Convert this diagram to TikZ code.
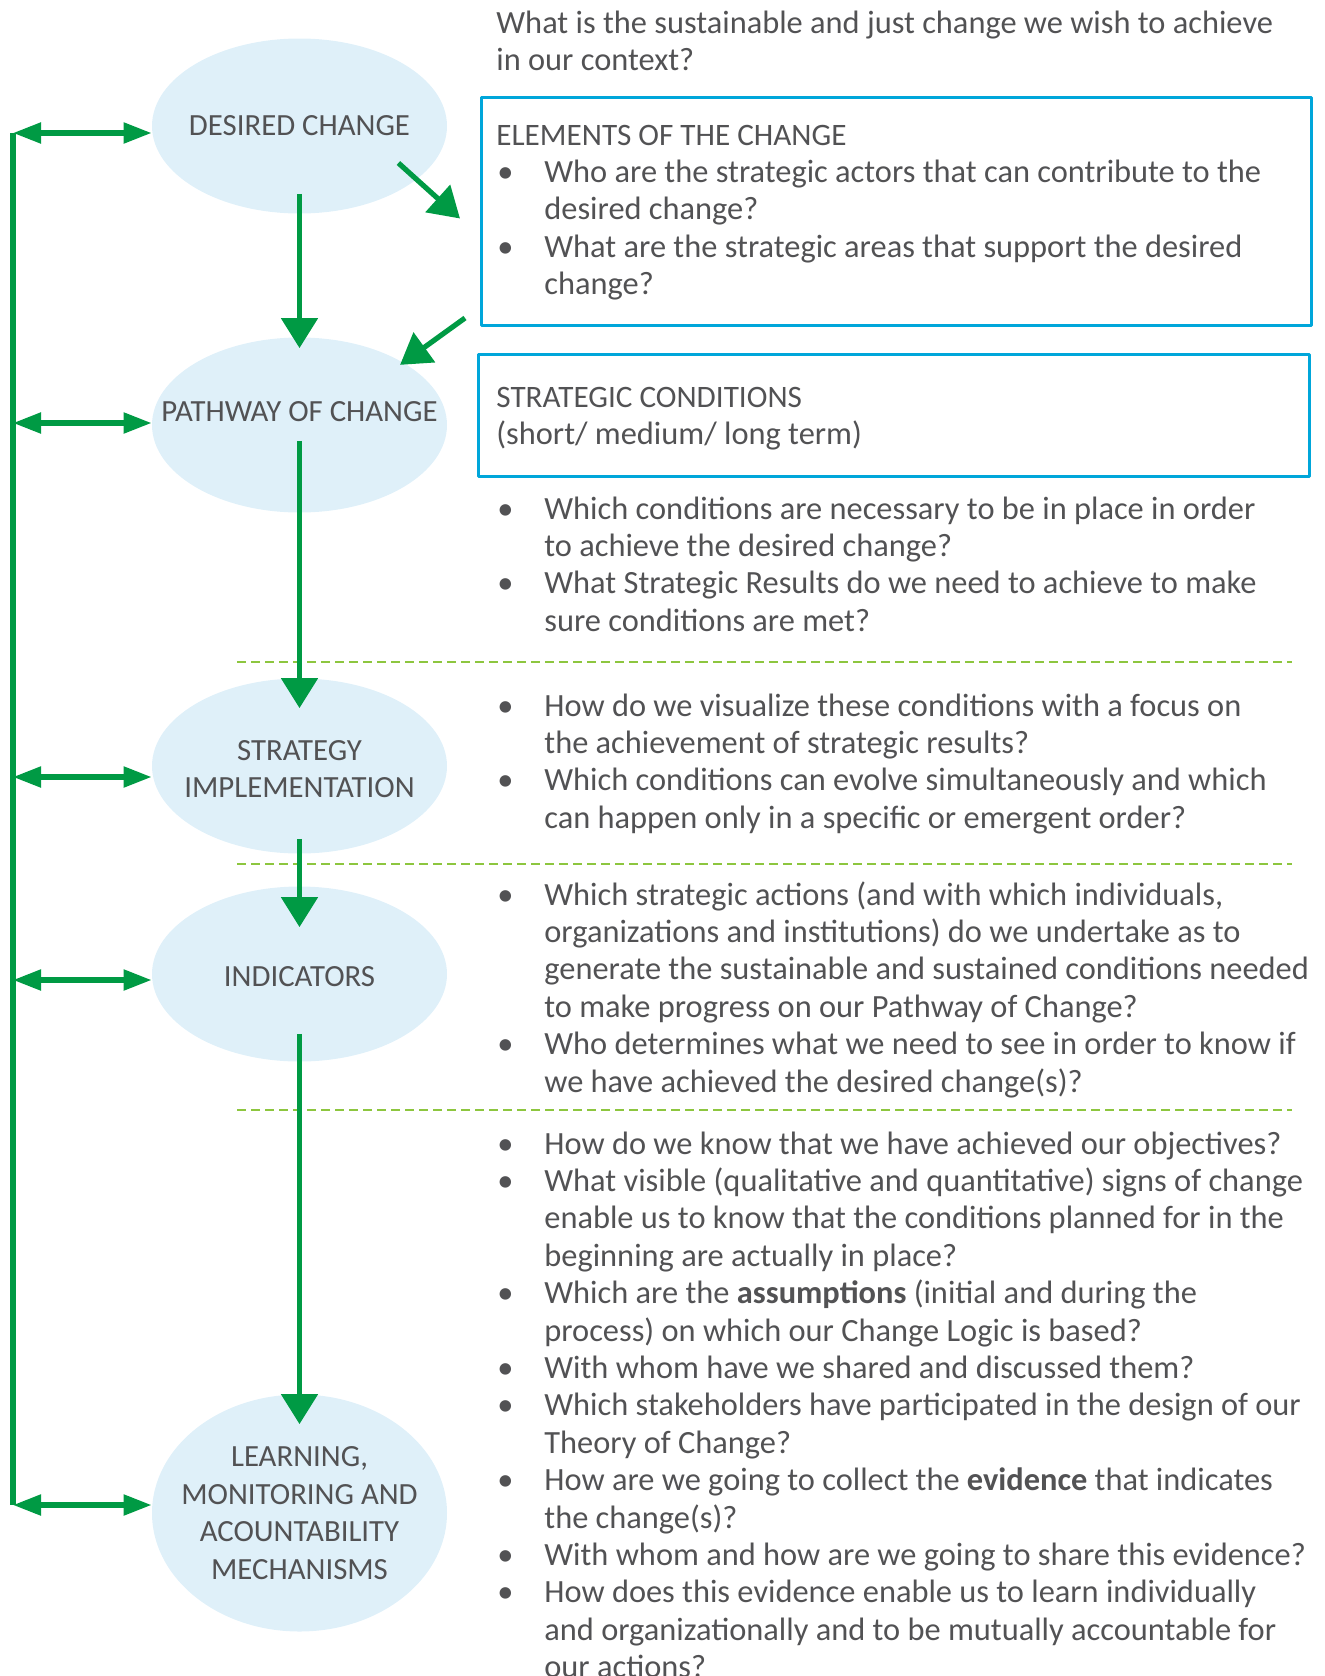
\documentclass[tikz,border=0pt]{standalone}
\usepackage{fontspec}
\setmainfont{Carlito}
\usetikzlibrary{shapes.geometric,arrows.meta}
\definecolor{txtgray}{RGB}{82,82,84}
\definecolor{arrgreen}{RGB}{0,154,68}
\definecolor{ovalblue}{RGB}{223,240,249}
\definecolor{boxblue}{RGB}{0,166,218}
\definecolor{sepgreen}{RGB}{141,198,63}
\newcommand{\bl}{\makebox[24pt][l]{\hspace{0.5pt}\textbullet}}
\newcommand{\ind}{\hspace*{24pt}}
\newcommand{\hd}{\fontsize{15.6}{18.7}\selectfont}
\begin{document}
\begin{tikzpicture}[x=0.5pt,y=-0.5pt,line join=round,>={Triangle[length=15pt,width=18pt]}]
			\tikzset{every node/.style={text=txtgray,inner sep=0pt},
				oval/.style={ellipse,fill=ovalblue,minimum width=147.5pt,minimum height=87.5pt},
				ovaltext/.style={align=center,font=\fontsize{15.4}{18.7}\selectfont},
				qbox/.style={draw=boxblue,line width=1.5pt,anchor=north west},
				qtext/.style={anchor=base west,font=\fontsize{16.2}{18.7}\selectfont},
				flow/.style={draw=arrgreen,line width=2.6pt,->},
				link/.style={draw=arrgreen,line width=2.6pt,{Triangle[length=14pt,width=10pt]}-{Triangle[length=14pt,width=10pt]}}}
			\useasboundingbox (0,0) rectangle (1324,1676);
			\node[oval] (dc) at (299.5,126) {};
			\node[oval] (pc) at (299.5,425) {};
			\node[oval] (si) at (299.5,766) {};
			\node[oval] (ind) at (299.5,974) {};
			\node[oval,minimum height=118.5pt] (lm) at (299.5,1513) {};
			\node[ovaltext] (dct) at (dc) {DESIRED CHANGE};
			\node[ovaltext] (pct) at ([yshift=6.5pt]pc.center) {PATHWAY OF CHANGE};
			\node[ovaltext] (sit) at ([yshift=-1.5pt]si.center) {STRATEGY\\IMPLEMENTATION};
			\node[ovaltext] (indt) at ([yshift=-1.5pt]ind.center) {INDICATORS};
			\node[ovaltext] (lmt) at (lm) {LEARNING,\\MONITORING AND\\ACOUNTABILITY\\MECHANISMS};
			\node[qbox,minimum width=415pt,minimum height=114pt] (el) at (480,96) {};
			\node[qbox,minimum width=415.5pt,minimum height=61pt] (sc) at (477,353) {};
			\foreach \y in {662,864,1110}
			\draw[sepgreen,line width=1pt,dash pattern=on 4.5pt off 2.5pt] (237,\y)--(1292,\y);
			\node[qtext] (q0) at (496,33.5) {\begin{tabular}[t]{@{}l@{}}
					What is the sustainable and just change we wish to achieve\\
					in our context?\end{tabular}};
			\node[qtext] (q1) at (496,145) {\begin{tabular}[t]{@{}l@{}}
					{\hd ELEMENTS OF THE CHANGE}\\
					\bl Who are the strategic actors that can contribute to the\\
					\ind desired change?\\
					\bl What are the strategic areas that support the desired\\
					\ind change?\end{tabular}};
			\node[qtext] (q2) at (496,407) {\begin{tabular}[t]{@{}l@{}}
					{\hd STRATEGIC CONDITIONS}\\
					(short/ medium/ long term)\end{tabular}};
			\node[qtext] (q3) at (496,519) {\begin{tabular}[t]{@{}l@{}}
					\bl Which conditions are necessary to be in place in order\\
					\ind to achieve the desired change?\\
					\bl What Strategic Results do we need to achieve to make\\
					\ind sure conditions are met?\end{tabular}};
			\node[qtext] (q4) at (496,716) {\begin{tabular}[t]{@{}l@{}}
					\bl How do we visualize these conditions with a focus on\\
					\ind the achievement of strategic results?\\
					\bl Which conditions can evolve simultaneously and which\\
					\ind can happen only in a specific or emergent order?\end{tabular}};
			\node[qtext] (q5) at (496,905) {\begin{tabular}[t]{@{}l@{}}
					\bl Which strategic actions (and with which individuals,\\
					\ind organizations and institutions) do we undertake as to\\
					\ind generate the sustainable and sustained conditions needed\\
					\ind to make progress on our Pathway of Change?\\
					\bl Who determines what we need to see in order to know if\\
					\ind we have achieved the desired change(s)?\end{tabular}};
			\node[qtext] (q6) at (496,1154) {\begin{tabular}[t]{@{}l@{}}
					\bl How do we know that we have achieved our objectives?\\
					\bl What visible (qualitative and quantitative) signs of change\\
					\ind enable us to know that the conditions planned for in the\\
					\ind beginning are actually in place?\\
					\bl Which are the \textbf{assumptions} (initial and during the\\
					\ind process) on which our Change Logic is based?\\
					\bl With whom have we shared and discussed them?\\
					\bl Which stakeholders have participated in the design of our\\
					\ind Theory of Change?\\
					\bl How are we going to collect the \textbf{evidence} that indicates\\
					\ind the change(s)?\\
					\bl With whom and how are we going to share this evidence?\\
					\bl How does this evidence enable us to learn individually\\
					\ind and organizationally and to be mutually accountable for\\
					\ind our actions?\end{tabular}};
			\foreach \n/\y in {1/133,2/423,3/777,4/980,5/1505}
			\coordinate (l\n) at (13,\y);
			\draw[arrgreen,line width=2.6pt] (l1)--(l5);
			\foreach \n/\e in {1/dc,2/pc,3/si,4/ind,5/lm}
			\draw[link] (l\n)--(l\n -| \e.west);
			\draw[flow] ([yshift=10pt]dc.south)--([yshift=-5.5pt]pc.north);
			\draw[flow] ([yshift=36pt]pc.south)--([yshift=-15pt]si.north);
			\draw[flow] ([yshift=7.5pt]si.south)--([yshift=-20.5pt]ind.north);
			\draw[flow] ([yshift=14pt]ind.south)--([yshift=-15pt]lm.north);
			\draw[flow] ([xshift=-24.5pt,yshift=-18.5pt]dc.east)--([xshift=-10pt,yshift=-3.5pt]el.west);
			\draw[flow] ([xshift=-7.5pt,yshift=4.5pt]el.south west)--([xshift=-2pt,yshift=-1pt]pc.north east);
		\end{tikzpicture}
\end{document}
